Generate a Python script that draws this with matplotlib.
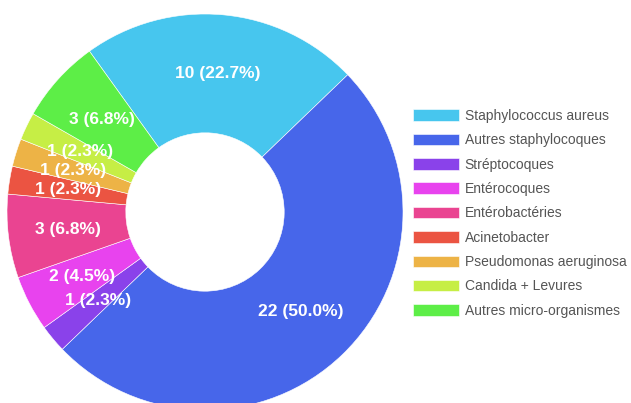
import matplotlib.pyplot as plt

categories = ["Staphylococcus aureus", "Autres staphylocoques", "Stréptocoques",
              "Entérocoques", "Entérobactéries", "Acinetobacter",
              "Pseudomonas aeruginosa", "Candida + Levures", "Autres micro-organismes"]
counts = [10, 22, 1, 2, 3, 1, 1, 1, 3]
colors = ["#47c6ee", "#4766ea", "#8a42ea", "#e843ee", "#ea4491",
          "#eb5442", "#edb346", "#c6ee45", "#5dee47"]

total = sum(counts)
labels = ["%d (%.1f%%)" % (c, 100.0 * c / total) for c in counts]

plt.rcParams['font.family'] = ['Liberation Sans', 'DejaVu Sans']

fig = plt.figure(figsize=(6.31, 4.03), dpi=100)
# square axes, centre at (205, 212) px, radius 198 px
W, H = 631, 403
cx, cy, r = 205, 212, 198
ax = fig.add_axes([(cx - r) / W, (H - cy - r) / H, 2 * r / W, 2 * r / H])

wedges, texts = ax.pie(counts, colors=colors, startangle=125.7, counterclock=False,
                       radius=1.0, labels=labels, labeldistance=0.7,
                       wedgeprops=dict(width=0.6, edgecolor="white", linewidth=0.4),
                       textprops=dict(color="white", fontsize=12.5, fontweight="bold",
                                      ha="center", va="center"))
for t in texts:
    t.set_ha("center")
    t.set_va("center")
ax.set_xlim(-1, 1)
ax.set_ylim(-1, 1)
ax.set_aspect("equal")
ax.axis("off")

leg = fig.legend(wedges, categories, loc="upper left",
                 bbox_to_anchor=(413 / W, 1 - 109 / H), frameon=False,
                 fontsize=10, handlelength=3.3, handleheight=0.9,
                 handletextpad=0.43, labelspacing=0.745, borderpad=0,
                 borderaxespad=0)
for t in leg.get_texts():
    t.set_color("#555555")

fig.savefig("out.png", dpi=100)
